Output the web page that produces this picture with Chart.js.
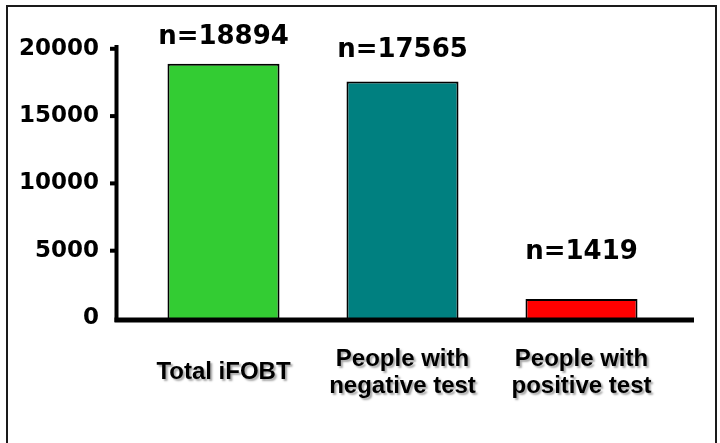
<!DOCTYPE html>
<html>
<head>
<meta charset="utf-8">
<title>iFOBT results</title>
<script src="https://cdn.jsdelivr.net/npm/chart.js@4.4.1/dist/chart.umd.min.js"></script>
<style>
	html, body { margin: 0; padding: 0; background: #fff; }
	canvas { display: block; }
</style>
</head>
<body>
<canvas id="chart" width="720" height="443"></canvas>
<script>
const categories = ['Total iFOBT', ['People with', 'negative test'], ['People with', 'positive test']];
const counts = [18894, 17565, 1419];
const yTicks = [0, 5000, 10000, 15000, 20000];

const barColors = ['#33cc33', '#008080', '#ff0000'];
// how far above each bar its "n=" label sits (px)
const labelLift = [26, 31, 47];

const axesAndLabels = {
	id: 'axesAndLabels',
	afterDatasetsDraw(chart) {
		const ctx = chart.ctx;
		const y = chart.scales.y;
		const y0 = y.getPixelForValue(0);

		ctx.save();
		ctx.strokeStyle = '#000';
		// y axis
		ctx.lineWidth = 4;
		ctx.beginPath();
		ctx.moveTo(116.5, 45);
		ctx.lineTo(116.5, y0 + 4);
		ctx.stroke();
		// tick marks
		yTicks.forEach(v => {
			if (v === 0) return;
			const py = Math.max(y.getPixelForValue(v), 48);
			ctx.beginPath();
			ctx.moveTo(110, py);
			ctx.lineTo(117, py);
			ctx.stroke();
		});
		// x axis
		ctx.lineWidth = 5;
		ctx.beginPath();
		ctx.moveTo(114.5, y0 + 2);
		ctx.lineTo(694, y0 + 2);
		ctx.stroke();

		// n= labels
		ctx.fillStyle = '#000';
		ctx.font = 'bold 26px "DejaVu Sans"';
		ctx.textAlign = 'center';
		ctx.textBaseline = 'middle';
		chart.getDatasetMeta(0).data.forEach((bar, i) => {
			ctx.fillText('n=' + counts[i], bar.x, bar.y - labelLift[i]);
		});
		ctx.restore();

		// shadow for the category labels drawn next (x ticks have z:1)
		ctx.save();
		ctx.shadowColor = 'rgba(0, 0, 0, 0.35)';
		ctx.shadowOffsetX = 2;
		ctx.shadowOffsetY = 2;
		ctx.shadowBlur = 2;
	},
	afterDraw(chart) {
		const ctx = chart.ctx;
		ctx.restore();
		// outer frame
		ctx.save();
		ctx.strokeStyle = '#1a1a1a';
		ctx.lineWidth = 2;
		ctx.strokeRect(7, 6, 709, 460);
		ctx.restore();
	}
};

const config = {
	type: 'bar',
	data: {
		labels: categories,
		datasets: [
			{
				data: counts,
				backgroundColor: barColors,
				borderColor: '#000',
				borderWidth: 2,
				barPercentage: 0.626,
				categoryPercentage: 1,
			},
		],
	},
	options: {
		responsive: false,
		animation: false,
		layout: {
			padding: { top: 46, left: 18, right: 49, bottom: 0 },
		},
		plugins: {
			legend: { display: false },
			tooltip: { enabled: false },
		},
		scales: {
			x: {
				grid: { display: false, drawTicks: false },
				border: { display: false },
				ticks: {
					z: 1,
					color: '#000',
					padding: 41,
					maxRotation: 0,
					autoSkip: false,
					crossAlign: 'center',
					font: { family: '"Liberation Sans", Arial, sans-serif', size: 24, weight: 'bold', lineHeight: 1.15 },
				},
				afterFit(axis) {
					axis.height = 125;
				},
			},
			y: {
				min: 0,
				max: 20000,
				grid: { display: false, drawTicks: false },
				border: { display: false },
				ticks: {
					color: '#000',
					padding: 35,
					font: { family: '"DejaVu Sans", sans-serif', size: 23, weight: 'bold' },
					callback: v => String(v),
				},
				afterBuildTicks(axis) {
					axis.ticks = yTicks.map(v => ({ value: v }));
				},
				afterFit(axis) {
					axis.width = 116;
				},
			},
		},
	},
	plugins: [axesAndLabels],
};

function renderChart() {
	const chartCanvas = document.getElementById('chart');
	new Chart(chartCanvas, config);
}

renderChart();
</script>
</body>
</html>
